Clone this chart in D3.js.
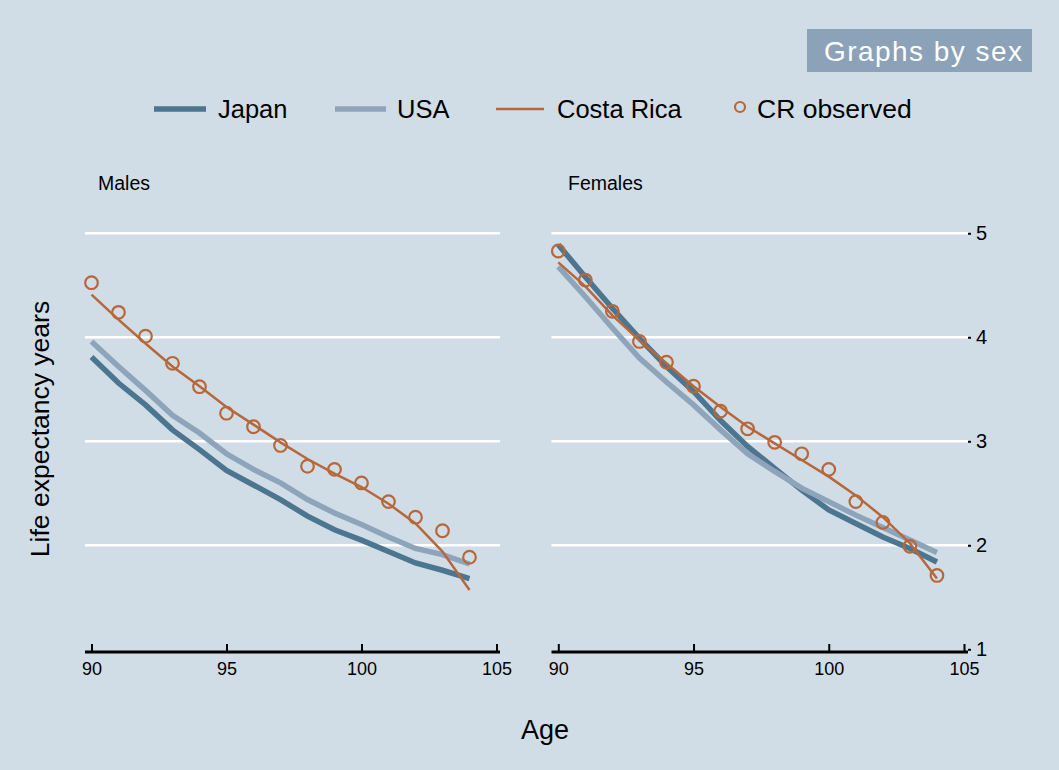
<!DOCTYPE html>
<html>
<head>
<meta charset="utf-8">
<script src="https://cdn.jsdelivr.net/npm/d3@7"></script>
<style>
  body { margin: 0; background: #d0dde6; }
  svg text { font-family: "Liberation Sans", Arial, Helvetica, sans-serif; }
</style>
</head>
<body>
<div id="content"></div>
<script>
// ages on the x axis
var ages = [90, 91, 92, 93, 94, 95, 96, 97, 98, 99, 100, 101, 102, 103, 104];

// males
var japanMales = [3.81, 3.56, 3.35, 3.11, 2.92, 2.72, 2.58, 2.44, 2.28, 2.15, 2.05, 1.94, 1.83, 1.76, 1.68];
var usaMales = [3.96, 3.72, 3.49, 3.25, 3.08, 2.88, 2.73, 2.60, 2.44, 2.31, 2.20, 2.08, 1.97, 1.91, 1.82];
var crMales = [4.41, 4.17, 3.94, 3.72, 3.53, 3.33, 3.16, 2.99, 2.83, 2.69, 2.56, 2.40, 2.21, 1.94, 1.57];
var crObsMales = [4.525, 4.24, 4.01, 3.75, 3.525, 3.27, 3.14, 2.96, 2.76, 2.73, 2.60, 2.42, 2.27, 2.14, 1.885];

// females
var japanFemales = [4.89, 4.58, 4.28, 3.99, 3.72, 3.48, 3.20, 2.95, 2.74, 2.53, 2.34, 2.21, 2.08, 1.97, 1.84];
var usaFemales = [4.68, 4.39, 4.09, 3.80, 3.57, 3.35, 3.11, 2.88, 2.71, 2.55, 2.42, 2.29, 2.17, 2.05, 1.93];
var crFemales = [4.72, 4.49, 4.21, 3.97, 3.75, 3.53, 3.33, 3.14, 2.98, 2.82, 2.66, 2.48, 2.27, 2.02, 1.68];
var crObsFemales = [4.83, 4.55, 4.25, 3.96, 3.76, 3.53, 3.29, 3.12, 2.99, 2.88, 2.73, 2.42, 2.22, 1.99, 1.71];

var xTicks = [90, 95, 100, 105];
var yTicks = [1, 2, 3, 4, 5];
var gridVals = [2, 3, 4, 5];

var legendNames = ["Japan", "USA", "Costa Rica", "CR observed"];

var colJapan = "#4c7590",
    colUsa = "#8ea4ba",
    colCr = "#b7673a",
    bg = "#d0dde6";

var width = 1059, height = 770;

var svg = d3.select("div#content").append("svg")
  .attr("width", width)
  .attr("height", height);

svg.append("rect")
  .attr("width", width)
  .attr("height", height)
  .attr("fill", bg);

var y = d3.scaleLinear().domain([1, 5]).range([649.3, 233.3]);

var panels = [
  { title: "Males", tx: 98, left: 85, right: 500, x0: 91.5, x1: 496.5,
    japan: japanMales, usa: usaMales, cr: crMales, obs: crObsMales },
  { title: "Females", tx: 568, left: 551.5, right: 968, x0: 558.3, x1: 964,
    japan: japanFemales, usa: usaFemales, cr: crFemales, obs: crObsFemales }
];

panels.forEach(function(p, i) {
  var x = d3.scaleLinear().domain([90, 105]).range([p.x0, p.x1]);
  var g = svg.append("g");

  // gridlines
  g.selectAll(".grid")
    .data(gridVals)
    .enter().append("line")
    .attr("x1", p.left)
    .attr("x2", p.right)
    .attr("y1", function(d) { return y(d); })
    .attr("y2", function(d) { return y(d); })
    .attr("stroke", "#ffffff")
    .attr("stroke-width", 2.5);

  // panel title
  g.append("text")
    .attr("x", p.tx)
    .attr("y", 190)
    .attr("font-size", 19.5)
    .attr("fill", "#000")
    .text(p.title);

  // x axis
  var axis = g.append("g")
    .attr("transform", "translate(0," + 652 + ")")
    .call(d3.axisBottom(x).tickValues(xTicks).tickSize(-8).tickPadding(10).tickSizeOuter(0));
  axis.select(".domain").remove();
  axis.selectAll(".tick line").attr("stroke", "#000").attr("stroke-width", 2);
  axis.selectAll(".tick text")
    .attr("font-size", 18)
    .attr("fill", "#000")
    .style("font-family", "'Liberation Sans', Arial, sans-serif");
  g.append("line")
    .attr("x1", p.left)
    .attr("x2", p.right)
    .attr("y1", 652)
    .attr("y2", 652)
    .attr("stroke", "#000")
    .attr("stroke-width", 3);

  var line = d3.line()
    .x(function(d, j) { return x(ages[j]); })
    .y(function(d) { return y(d); });

  g.append("path")
    .datum(p.japan)
    .attr("d", line)
    .attr("fill", "none")
    .attr("stroke", colJapan)
    .attr("stroke-width", 5.5);

  g.append("path")
    .datum(p.usa)
    .attr("d", line)
    .attr("fill", "none")
    .attr("stroke", colUsa)
    .attr("stroke-width", 5.5);

  g.append("path")
    .datum(p.cr)
    .attr("d", line)
    .attr("fill", "none")
    .attr("stroke", colCr)
    .attr("stroke-width", 2.5);

  g.selectAll(".obs")
    .data(p.obs)
    .enter().append("circle")
    .attr("cx", function(d, j) { return x(ages[j]); })
    .attr("cy", function(d) { return y(d); })
    .attr("r", 6.3)
    .attr("fill", "none")
    .attr("stroke", colCr)
    .attr("stroke-width", 2.2);

  // y axis on the right of the last panel
  if (i === 1) {
    var yAxis = g.append("g")
      .attr("transform", "translate(" + 968 + ",0)")
      .call(d3.axisRight(y).tickValues(yTicks).tickSize(3).tickPadding(5).tickFormat(d3.format("d")));
    yAxis.select(".domain").remove();
    yAxis.selectAll(".tick line").attr("stroke", "#000").attr("stroke-width", 2);
    yAxis.selectAll(".tick text")
      .attr("font-size", 20)
      .attr("fill", "#000")
      .style("font-family", "'Liberation Sans', Arial, sans-serif");
  }
});

// axis titles
svg.append("text")
  .attr("transform", "translate(49,429) rotate(-90)")
  .attr("text-anchor", "middle")
  .attr("font-size", 26.5)
  .attr("fill", "#000")
  .text("Life expectancy years");

svg.append("text")
  .attr("x", 545)
  .attr("y", 739)
  .attr("text-anchor", "middle")
  .attr("font-size", 27)
  .attr("fill", "#000")
  .text("Age");

// "Graphs by sex" note box
svg.append("rect")
  .attr("x", 807)
  .attr("y", 29)
  .attr("width", 225)
  .attr("height", 43)
  .attr("fill", "#8ca2b8");
svg.append("text")
  .attr("x", 824)
  .attr("y", 61)
  .attr("font-size", 28)
  .attr("fill", "#ffffff")
  .attr("textLength", 198)
  .attr("lengthAdjust", "spacing")
  .text("Graphs by sex");

// legend
var legendItems = [
  { name: legendNames[0], color: colJapan, w: 5.5, lx: 154, lw: 52, tx: 218 },
  { name: legendNames[1], color: colUsa, w: 5.5, lx: 335, lw: 51, tx: 397 },
  { name: legendNames[2], color: colCr, w: 2.5, lx: 496, lw: 48, tx: 557 }
];
var legend = svg.append("g");
legendItems.forEach(function(d) {
  legend.append("line")
    .attr("x1", d.lx)
    .attr("x2", d.lx + d.lw)
    .attr("y1", 109)
    .attr("y2", 109)
    .attr("stroke", d.color)
    .attr("stroke-width", d.w);
  legend.append("text")
    .attr("x", d.tx)
    .attr("y", 118)
    .attr("font-size", 25.5)
    .attr("fill", "#000")
    .text(d.name);
});
legend.append("circle")
  .attr("cx", 740)
  .attr("cy", 107)
  .attr("r", 5)
  .attr("fill", "none")
  .attr("stroke", colCr)
  .attr("stroke-width", 2.2);
legend.append("text")
  .attr("x", 757)
  .attr("y", 118)
  .attr("font-size", 26.5)
  .attr("fill", "#000")
  .text(legendNames[3]);
</script>
</body>
</html>
